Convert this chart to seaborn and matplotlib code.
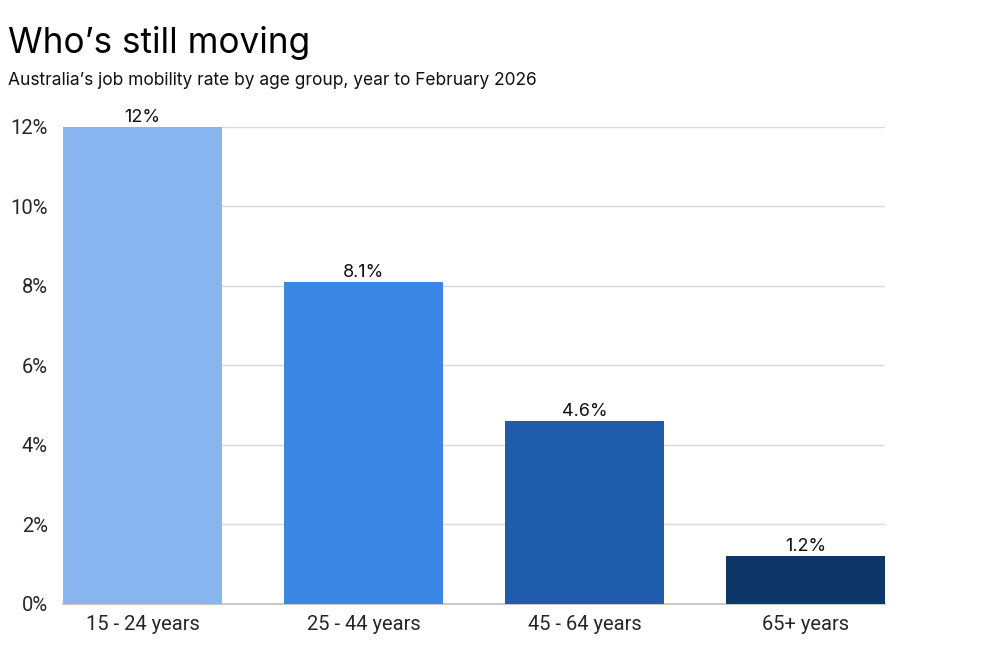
import matplotlib
matplotlib.use("Agg")
import matplotlib.pyplot as plt
import seaborn as sns
import pandas as pd

age_groups = ["15 - 24 years", "25 - 44 years", "45 - 64 years", "65+ years"]
mobility_rate = [12, 8.1, 4.6, 1.2]
value_labels = ["12%", "8.1%", "4.6%", "1.2%"]
bar_colors = ["#88b5f0", "#3a88e4", "#1f5cab", "#0f3669"]
y_ticks = [0, 2, 4, 6, 8, 10, 12]

df = pd.DataFrame({"age": age_groups, "rate": mobility_rate})

sns.set_style("white")
plt.rcParams["font.family"] = ["Inter", "DejaVu Sans"]

fig = plt.figure(figsize=(9.91, 6.57), dpi=100)
ax = fig.add_axes([0.0636, 0.0807, 0.8295, 0.726])

sns.barplot(data=df, x="age", y="rate", hue="age", palette=bar_colors,
            width=0.72, legend=False, ax=ax, zorder=3, saturation=1,
            linewidth=0, edgecolor="none")

ax.set_xlim(-0.36, 3.36)
ax.set_ylim(0, 12)
ax.set_yticks(y_ticks)
ax.set_yticklabels([f"{t}%" for t in y_ticks], fontsize=14.5, family="Roboto")
ax.set_xticks(range(len(age_groups)))
ax.set_xticklabels(age_groups, fontsize=14.5, family="Roboto")
ax.tick_params(axis="x", length=0, pad=8)
ax.tick_params(axis="y", length=0, pad=11)
ax.grid(axis="y", color="#d9d9d9", linewidth=1, zorder=0)
ax.set_xlabel("")
ax.set_ylabel("")
for side in ["top", "right", "left"]:
    ax.spines[side].set_visible(False)
ax.spines["bottom"].set_color("#c0c0c0")
ax.spines["bottom"].set_linewidth(1.2)

for i, bar_container in enumerate(ax.containers):
    ax.bar_label(bar_container, labels=[value_labels[i]], padding=1, fontsize=13, color="#111111")

fig.text(0.008, 0.934, "Who’s still moving", fontsize=25.3, color="black", va="center")
fig.text(0.008, 0.878, "Australia’s job mobility rate by age group, year to February 2026",
         fontsize=12.5, color="#111111", va="center")

fig.savefig("out.png", dpi=100, facecolor="white")
